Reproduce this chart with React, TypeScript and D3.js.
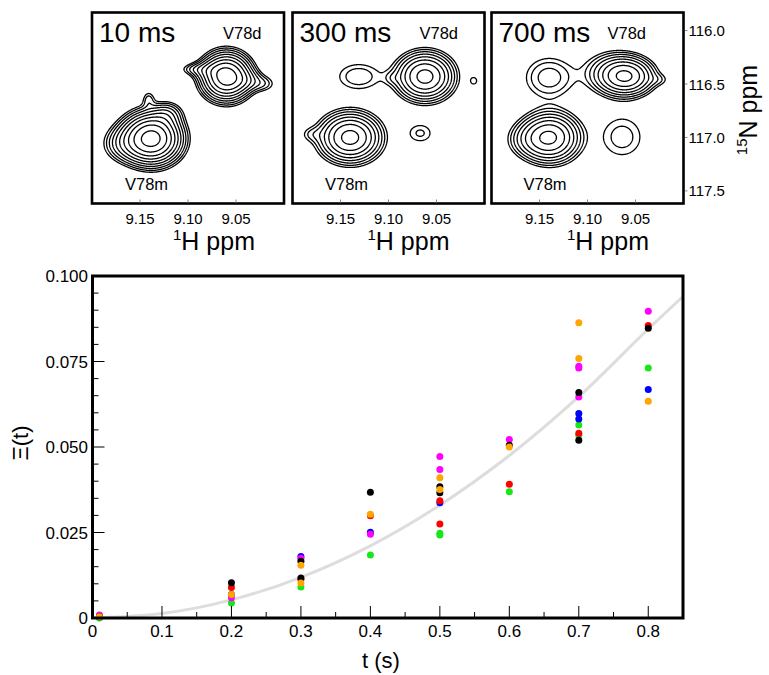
import React, { useMemo } from 'react';
import * as d3 from 'd3';

// ---------- scatter data ----------
const T_TICKS = [0, 0.1, 0.2, 0.3, 0.4, 0.5, 0.6, 0.7, 0.8];
const T_TICK_LABELS = ['0', '0.1', '0.2', '0.3', '0.4', '0.5', '0.6', '0.7', '0.8'];
const Y_TICKS = [0, 0.025, 0.05, 0.075, 0.1];
const Y_TICK_LABELS = ['0', '0.025', '0.050', '0.075', '0.100'];

const GREEN_PTS = [[0.01, 0.0], [0.2, 0.0044], [0.3, 0.0091], [0.4, 0.0184], [0.5, 0.0248], [0.5, 0.0243], [0.6, 0.0369], [0.7, 0.0564], [0.7, 0.0534], [0.8, 0.0731]];
const BLUE_PTS = [[0.01, 0.0004], [0.2, 0.0069], [0.3, 0.018], [0.4, 0.0251], [0.5, 0.0337], [0.7, 0.0598], [0.7, 0.0582], [0.8, 0.0668]];
const MAGENTA_PTS = [[0.01, 0.0009], [0.2, 0.0059], [0.3, 0.0175], [0.4, 0.0245], [0.5, 0.0472], [0.5, 0.0434], [0.6, 0.0522], [0.7, 0.0736], [0.7, 0.0731], [0.7, 0.0646], [0.8, 0.0897]];
const RED_PTS = [[0.01, 0.0004], [0.2, 0.0089], [0.3, 0.0113], [0.4, 0.0299], [0.5, 0.0343], [0.5, 0.0275], [0.6, 0.0391], [0.7, 0.054], [0.8, 0.0855]];
const BLACK_PTS = [[0.01, 0.0004], [0.2, 0.0103], [0.3, 0.0166], [0.3, 0.0117], [0.4, 0.0368], [0.5, 0.0384], [0.5, 0.0366], [0.6, 0.0505], [0.7, 0.0659], [0.7, 0.052], [0.8, 0.0847]];
const ORANGE_PTS = [[0.01, 0.0004], [0.2, 0.0069], [0.3, 0.0154], [0.3, 0.0102], [0.4, 0.0303], [0.5, 0.041], [0.5, 0.0376], [0.6, 0.05], [0.7, 0.0863], [0.7, 0.0759], [0.8, 0.0634]];

const SERIES = [
  { color: '#19e619', pts: GREEN_PTS },
  { color: '#0000ff', pts: BLUE_PTS },
  { color: '#ff00ff', pts: MAGENTA_PTS },
  { color: '#ff0000', pts: RED_PTS },
  { color: '#000000', pts: BLACK_PTS },
  { color: '#ffa500', pts: ORANGE_PTS },
];

const FIT_T = [0, 0.1, 0.2, 0.3, 0.4, 0.5, 0.6, 0.7, 0.8, 0.85];
const FIT_V = [0, 0.0013, 0.0053, 0.0119, 0.0211, 0.033, 0.0475, 0.0647, 0.0845, 0.094];

// ---------- spectra data ----------
const H_TICKS = [9.15, 9.1, 9.05];
const H_TICK_LABELS = ['9.15', '9.10', '9.05'];
const N_TICKS = [116.0, 116.5, 117.0, 117.5];
const N_TICK_LABELS = ['116.0', '116.5', '117.0', '117.5'];
const PANEL_TITLES = ['10 ms', '300 ms', '700 ms'];

// [1H ppm, 15N ppm, amplitude, width 1H, width 15N]
const PEAKS_10 = [
  [9.06, 116.43, 18, 0.0138, 0.118],
  [9.08, 116.37, 2.0, 0.012, 0.05],
  [9.094, 116.36, 1.1, 0.01, 0.035],
  [9.04, 116.47, 2.2, 0.012, 0.06],
  [9.021, 116.5, 1.3, 0.009, 0.05],
  [9.138, 117.01, 24, 0.016, 0.125],
  [9.165, 117.06, 3, 0.014, 0.1],
  [9.122, 116.78, 2.5, 0.01, 0.07],
  [9.141, 116.64, 1.4, 0.0045, 0.055],
];
const PEAKS_300 = [
  [9.062, 116.43, 12, 0.0162, 0.122],
  [9.096, 116.445, 0.7, 0.006, 0.04],
  [9.14, 117.0, 12, 0.0174, 0.126],
  [9.181, 116.97, 1.0, 0.008, 0.05],
  [9.131, 116.43, 1.85, 0.0178, 0.1],
  [9.067, 116.96, 1.5, 0.0113, 0.078],
  [9.011, 116.47, 1.15, 0.0045, 0.045],
];
const PEAKS_700 = [
  [9.06, 116.43, 10, 0.016, 0.1],
  [9.075, 116.39, 2.5, 0.019, 0.12],
  [9.025, 116.46, 0.8, 0.008, 0.04],
  [9.14, 116.44, 2.4, 0.0178, 0.135],
  [9.139, 117.0, 11, 0.0169, 0.128],
  [9.16, 117.02, 2, 0.015, 0.1],
  [9.064, 116.995, 1.7, 0.018, 0.16],
];
const PANEL_PEAKS = [PEAKS_10, PEAKS_300, PEAKS_700];
const CONTOUR_LEVELS = [1, 1.4, 1.96, 2.744, 3.842, 5.378, 7.53, 10.54, 14.76, 20.66, 28.93];

const FONT = 'Liberation Sans, Arial, Helvetica, sans-serif';

const PANEL_X = [92, 292.5, 491.5];
const PANEL_Y = 12.5;
const PANEL_W = 192;
const PANEL_H = 191;
const D_LABEL_DX = [131, 127, 116];
const M_LABEL_DX = [33, 32.5, 32];
const HLABEL_DX = [81, 75, 75.5];

function Panel({ idx }: { idx: number }) {
  const x0 = PANEL_X[idx];
  const peaks = PANEL_PEAKS[idx];
  const hs = d3.scaleLinear().domain([9.2, 9.0]).range([0, PANEL_W]);
  const ns = d3.scaleLinear().domain([115.831, 117.618]).range([0, PANEL_H]);
  const paths = useMemo(() => {
    const k = 2;
    const nx = PANEL_W * k, ny = PANEL_H * k;
    const vals = new Float64Array(nx * ny);
    for (let j = 0; j < ny; j++) {
      const n = ns.invert((j + 0.5) / k);
      for (let i = 0; i < nx; i++) {
        const h = hs.invert((i + 0.5) / k);
        let s = 0;
        for (const p of peaks) {
          const dh = (h - p[0]) / p[3];
          const dn = (n - p[1]) / p[4];
          s += p[2] * Math.exp(-0.5 * (dh * dh + dn * dn));
        }
        vals[j * nx + i] = s;
      }
    }
    const cs = d3.contours().size([nx, ny]).thresholds(CONTOUR_LEVELS)(Array.from(vals));
    const tr = d3.geoTransform({
      point: function (x: number, y: number) {
        (this as any).stream.point(x / k, y / k);
      },
    });
    const gp = d3.geoPath(tr);
    return cs.map((c) => gp(c as any) || '');
  }, [idx]);
  const clipId = 'clip' + idx;
  return (
    <g>
      <defs>
        <clipPath id={clipId}>
          <rect x={0} y={0} width={PANEL_W} height={PANEL_H} />
        </clipPath>
      </defs>
      <g transform={`translate(${x0},${PANEL_Y})`}>
        <g clipPath={`url(#${clipId})`}>
          {paths.map((d, i) => (
            <path key={i} d={d} fill="none" stroke="#000" strokeWidth={1.3} strokeLinejoin="round" />
          ))}
        </g>
        <rect x={0} y={0} width={PANEL_W} height={PANEL_H} fill="none" stroke="#000" strokeWidth={2.6} />
        {H_TICKS.map((t, i) => (
          <g key={i}>
            <line x1={hs(t)} x2={hs(t)} y1={PANEL_H - 1} y2={PANEL_H - 4} stroke="#888" strokeWidth={1} />
            <text x={hs(t)} y={224 - PANEL_Y} textAnchor="middle" fontSize={15} fontFamily={FONT}>
              {H_TICK_LABELS[i]}
            </text>
          </g>
        ))}
        <text x={7} y={42 - PANEL_Y} fontSize={28} fontFamily={FONT}>{PANEL_TITLES[idx]}</text>
        <text x={D_LABEL_DX[idx]} y={39 - PANEL_Y} fontSize={16.5} fontFamily={FONT}>V78d</text>
        <text x={M_LABEL_DX[idx]} y={190 - PANEL_Y} fontSize={16.5} fontFamily={FONT}>V78m</text>
        <text x={HLABEL_DX[idx]} y={250 - PANEL_Y} fontFamily={FONT}>
          <tspan fontSize={15} dy={-10}>1</tspan>
          <tspan fontSize={25} dy={10}>H ppm</tspan>
        </text>
        {idx === 2 &&
          N_TICKS.map((n, i) => (
            <g key={'n' + i}>
              <line x1={PANEL_W + 1.5} x2={PANEL_W + 4} y1={ns(n)} y2={ns(n)} stroke="#888" strokeWidth={1} />
              <text x={PANEL_W + 5} y={ns(n) + 5.5} fontSize={15} fontFamily={FONT}>{N_TICK_LABELS[i]}</text>
            </g>
          ))}
      </g>
    </g>
  );
}

export default function App() {
  const X0 = 92.5, X1 = 683, Y0 = 276, Y1 = 618;
  const x = d3.scaleLinear().domain([0, 0.85]).range([X0, X1]);
  const y = d3.scaleLinear().domain([0, 0.1]).range([Y1, Y0]);
  const fit = d3
    .line<number>()
    .x((_, i) => x(FIT_T[i]))
    .y((v) => y(v))
    .curve(d3.curveCatmullRom)(FIT_V) as string;
  const xMinor = d3.range(0, 0.85, 0.05);
  const yMinor = d3.range(0, 0.1001, 0.005);
  return (
    <svg width={769} height={675} style={{ position: 'absolute', left: 0, top: 0, background: '#fff' }}>
      <rect width={769} height={675} fill="#fff" />
      {[0, 1, 2].map((i) => (
        <Panel key={i} idx={i} />
      ))}
      <text transform="translate(757,110) rotate(-90)" textAnchor="middle" fontFamily={FONT}>
        <tspan fontSize={15} dy={-10}>15</tspan>
        <tspan fontSize={25} dy={10}>N ppm</tspan>
      </text>

      {/* scatter */}
      <defs>
        <clipPath id="plotclip">
          <rect x={X0} y={Y0} width={X1 - X0} height={Y1 - Y0} />
        </clipPath>
      </defs>
      <path d={fit} fill="none" stroke="#dddddd" strokeWidth={3} clipPath="url(#plotclip)" />
      {SERIES.map((s, si) =>
        s.pts.map((p, pi) => <circle key={si + '-' + pi} cx={x(p[0])} cy={y(p[1])} r={3.5} fill={s.color} />)
      )}
      {xMinor.map((t, i) => {
        const major = i % 2 === 0;
        return <line key={'xt' + i} x1={x(t)} x2={x(t)} y1={Y1} y2={Y1 - (major ? 12 : 6)} stroke="#000" strokeWidth={1} />;
      })}
      {yMinor.map((v, i) => {
        const major = i % 5 === 0;
        return <line key={'yt' + i} x1={X0} x2={X0 + (major ? 12 : 6)} y1={y(v)} y2={y(v)} stroke="#000" strokeWidth={1} />;
      })}
      <rect x={X0} y={Y0} width={X1 - X0} height={Y1 - Y0} fill="none" stroke="#000" strokeWidth={3} />
      {T_TICKS.map((t, i) => (
        <text key={'xl' + i} x={x(t)} y={637} textAnchor="middle" fontSize={17} fontFamily={FONT}>
          {T_TICK_LABELS[i]}
        </text>
      ))}
      {Y_TICKS.map((v, i) => (
        <text key={'yl' + i} x={88} y={y(v) + 6} textAnchor="end" fontSize={17} fontFamily={FONT}>
          {Y_TICK_LABELS[i]}
        </text>
      ))}
      <text x={381} y={668} textAnchor="middle" fontSize={22} fontFamily={FONT}>t (s)</text>
      <text transform="translate(28,443) rotate(-90)" textAnchor="middle" fontSize={22} fontFamily={FONT}>Ξ(t)</text>
    </svg>
  );
}
